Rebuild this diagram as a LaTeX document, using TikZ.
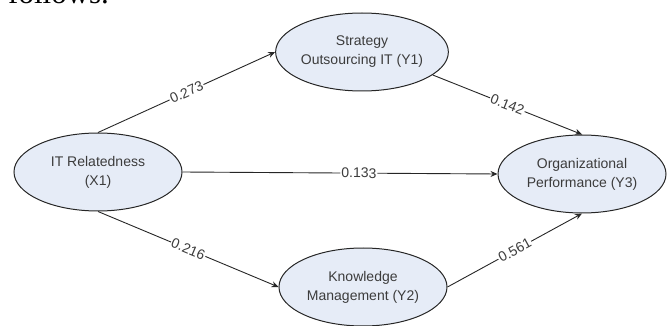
\documentclass[tikz,border=0pt]{standalone}
\usepackage{fontspec}
\setmainfont{Liberation Sans}
\newfontfamily\bodyserif{Liberation Serif}
\usepackage{xcolor}
\usetikzlibrary{arrows,arrows.meta,shapes.geometric}
\definecolor{constructfill}{HTML}{E6ECF7}
\definecolor{inktext}{HTML}{3C3C3C}

\begin{document}
\begin{tikzpicture}[
x=1pt, y=-1pt,
font=\fontsize{14}{19}\selectfont,
construct/.style={ellipse,draw=black!85,line width=1pt,fill=constructfill,text=inktext,align=center,minimum width=168pt,minimum height=78pt,inner sep=0pt},
effect/.style={->,>={Stealth[length=7pt,width=6pt]},line width=0.9pt,draw=black!85},
coef/.style={fill=white,inner sep=1pt,sloped,text=inktext}
]
    % Page frame
    \useasboundingbox (0,0) rectangle (670,326);
    \clip (0,0) rectangle (670,326);

    % Text of the page above the figure
    \node (follows) [anchor=base west, inner sep=0pt, font=\bodyserif\fontsize{31}{31}\selectfont] at (8,4) {follows.};

    % Constructs
    \node (x1) [construct] at (98,172) {IT Relatedness\\(X1)};
    \node (y1) [construct] at (362,52) {Strategy\\Outsourcing IT (Y1)};
    \node (y3) [construct] at (582,174) {Organizational\\Performance (Y3)};
    \node (y2) [construct] at (363,287) {Knowledge\\Management (Y2)};

    % Paths
    \draw[effect] (x1.north) -- node[coef]{0.273} (y1.west);
    \draw[effect] (y1.-18) -- node[coef]{0.142} (y3.north);
    \draw[effect] (x1.east) -- node[coef, pos=0.56]{0.133} (y3.west);
    \draw[effect] (x1.south) -- node[coef]{0.216} (y2.west);
    \draw[effect] (y2.east) -- node[coef]{0.561} (y3.south);

\end{tikzpicture}
\end{document}
